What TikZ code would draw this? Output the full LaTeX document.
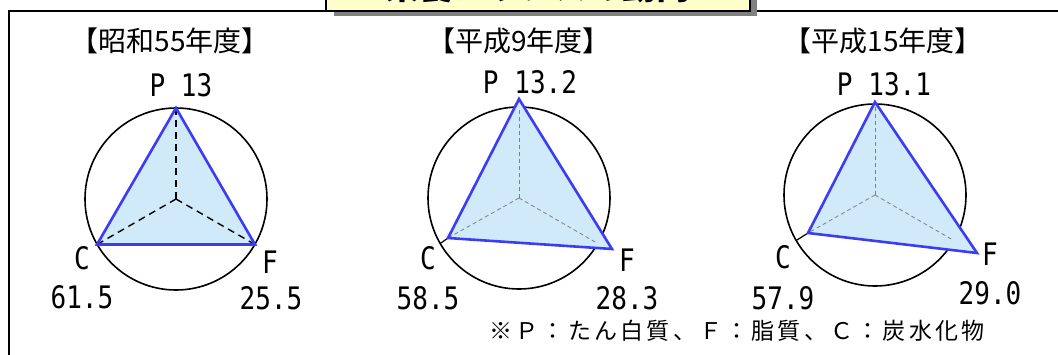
\documentclass[tikz,border=0pt]{standalone}
\usepackage{fontspec}
\newfontfamily\jp{Noto Sans CJK JP}
\newfontfamily\jpls[LetterSpace=14]{Noto Sans CJK JP}
\newfontfamily\numf[FakeStretch=0.84]{DejaVu Sans Mono}
\definecolor{triblue}{RGB}{60,60,245}
\definecolor{fillblue}{RGB}{208,234,250}
\definecolor{titleyellow}{RGB}{255,255,204}
\definecolor{shadowgray}{RGB}{128,128,128}
\begin{document}
\begin{tikzpicture}[x=1pt,y=-1pt,
  ring/.style={draw=black, line width=1.6pt},
  tri/.style={draw=triblue, line width=2.6pt, fill=fillblue, line join=miter},
  axisA/.style={draw=black, line width=1.4pt, dash pattern=on 7pt off 5pt},
  axisB/.style={draw=black!50, line width=0.8pt, dash pattern=on 4pt off 3pt},
  tick/.style={draw=black, line width=1.2pt},
  yr/.style={font=\jp\fontsize{28}{28}\selectfont, inner sep=0pt},
  lab/.style={font=\numf\fontsize{31}{31}\selectfont, inner sep=0pt},
]
\useasboundingbox (0,0) rectangle (1058,354);
\begin{scope}
\clip (0,0) rectangle (1058,354);
% frame
\coordinate (fbl) at (9,370);
\coordinate (ftl) at (9,11);
\coordinate (ftr) at (1080,11);
\draw[line width=1.4pt] (fbl) -- (ftl) -- (ftr);
% title box
\fill[shadowgray] (334,-40) rectangle (757,16);
\draw[line width=1.6pt, fill=titleyellow] (326,-40) rectangle (750,11);
\node[font=\jp\bfseries\fontsize{34}{34}\selectfont, anchor=base, inner sep=0pt] (title) at (538,-1) {栄養バランスの動向};

% ---------- chart 1 ----------
\coordinate (O1) at (176,199);
\coordinate (P1) at (176,108);
\coordinate (C1) at (97,244.5);
\coordinate (F1) at (255,244.5);
\draw[ring] (O1) circle[radius=91];
\fill[fillblue] (P1) -- (C1) -- (F1) -- cycle;
\draw[axisA] (O1) -- (P1);
\draw[axisA] (O1) -- (C1);
\draw[axisA] (O1) -- (F1);
\draw[tri, fill=none] (P1) -- (C1) -- (F1) -- cycle;
\node[yr] (y1) at (170,41) {【昭和55年度】};
\node[lab] (lp1) at (181,85) {P 13};
\node[lab] (lc1) at (82,258) {C};
\node[lab] (vc1) at (82,297) {61.5};
\node[lab] (lf1) at (270,262) {F};
\node[lab] (vf1) at (271,298) {25.5};

% ---------- chart 2 ----------
\coordinate (O2) at (519,198);
\coordinate (P2) at (519,99);
\coordinate (C2) at (448,238);
\coordinate (F2) at (612,249);
\coordinate (P2r) at (519,107);
\coordinate (C2r) at (440.2,243.5);
\coordinate (F2r) at (597.8,243.5);
\draw[ring] (O2) circle[radius=91];
\fill[fillblue] (P2) -- (C2) -- (F2) -- cycle;
\draw[axisB] (O2) -- (P2r);
\draw[axisB] (O2) -- (C2);
\draw[axisB] (O2) -- (F2r);
\draw[tick] (C2r) -- (C2);
\draw[tri, fill=none] (P2) -- (C2) -- (F2) -- cycle;
\node[yr] (y2) at (519,41) {【平成9年度】};
\node[lab] (lp2) at (530,82) {P 13.2};
\node[lab] (lc2) at (428,258) {C};
\node[lab] (vc2) at (428,298) {58.5};
\node[lab] (lf2) at (627,260) {F};
\node[lab] (vf2) at (627,298) {28.3};

% ---------- chart 3 ----------
\coordinate (O3) at (875,195);
\coordinate (P3) at (875,102);
\coordinate (C3) at (808,233);
\coordinate (F3) at (977,253);
\coordinate (P3r) at (875,104);
\coordinate (C3r) at (796.2,240.5);
\coordinate (F3r) at (953.8,240.5);
\draw[ring] (O3) circle[radius=91];
\fill[fillblue] (P3) -- (C3) -- (F3) -- cycle;
\draw[axisB] (O3) -- (P3r);
\draw[axisB] (O3) -- (C3);
\draw[axisB] (O3) -- (F3r);
\draw[tick] (C3r) -- (C3);
\draw[tri, fill=none] (P3) -- (C3) -- (F3) -- cycle;
\node[yr] (y3) at (883,41) {【平成15年度】};
\node[lab] (lp3) at (884,84) {P 13.1};
\node[lab] (lc3) at (783,257) {C};
\node[lab] (vc3) at (783,298) {57.9};
\node[lab] (lf3) at (990,254) {F};
\node[lab] (vf3) at (990,293) {29.0};

% footnote
\node[font=\jpls\fontsize{23}{23}\selectfont, inner sep=0pt] (note) at (737,331) {※Ｐ：たん白質、Ｆ：脂質、Ｃ：炭水化物};
\end{scope}
\end{tikzpicture}
\end{document}
